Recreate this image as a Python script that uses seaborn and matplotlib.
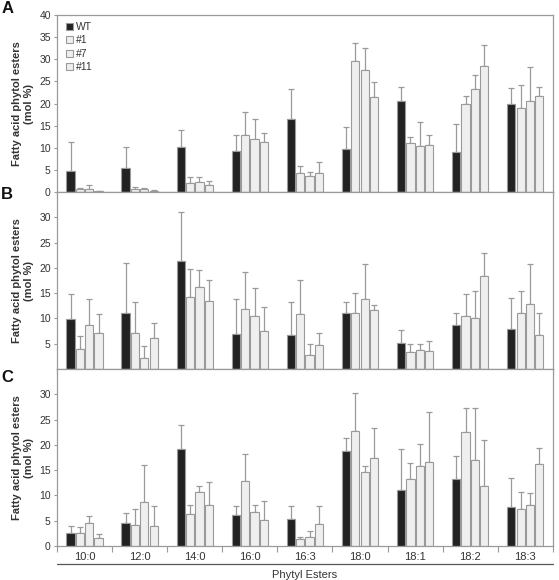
import numpy as np
import pandas as pd
import matplotlib
matplotlib.use("Agg")
import matplotlib.pyplot as plt
from matplotlib.patches import Patch
import seaborn as sns

# - Data -
esters = ["10:0", "12:0", "14:0", "16:0", "16:3", "18:0", "18:1", "18:2", "18:3"]
lines = ["WT", "#1", "#7", "#11"]

# panel A: means and top of error bar
a_wt = [4.8, 5.4, 10.1, 9.2, 16.6, 9.8, 20.6, 9.1, 19.9]
a_1 = [0.6, 0.7, 2.0, 12.8, 4.4, 29.6, 11.1, 20.0, 19.0]
a_7 = [0.7, 0.6, 2.3, 11.9, 3.6, 27.5, 10.4, 23.2, 20.5]
a_11 = [0.2, 0.3, 1.7, 11.4, 4.4, 21.4, 10.7, 28.6, 21.7]
a_wt_top = [11.3, 10.2, 14.1, 13.0, 23.4, 14.8, 23.8, 15.4, 23.6]
a_1_top = [1.0, 1.2, 3.3, 18.2, 6.0, 33.7, 12.4, 21.6, 24.3]
a_7_top = [1.5, 1.0, 3.3, 16.5, 4.5, 32.5, 15.9, 26.5, 28.3]
a_11_top = [0.3, 0.5, 2.6, 13.3, 6.8, 24.9, 12.8, 33.2, 23.8]

# panel B
b_wt = [9.9, 11.0, 21.3, 6.9, 6.7, 11.1, 5.2, 8.8, 8.0]
b_1 = [4.0, 7.2, 14.3, 11.9, 10.8, 11.1, 3.3, 10.5, 11.0]
b_7 = [8.8, 2.2, 16.2, 10.4, 2.8, 13.9, 3.7, 10.0, 12.9]
b_11 = [7.2, 6.1, 13.4, 7.5, 4.8, 11.6, 3.5, 18.4, 6.8]
b_wt_top = [14.9, 21.0, 31.1, 13.9, 13.2, 13.3, 7.7, 11.1, 14.1]
b_1_top = [6.5, 13.3, 19.7, 19.2, 17.7, 15.1, 4.9, 14.8, 15.5]
b_7_top = [13.9, 4.6, 19.5, 16.0, 4.9, 20.7, 4.9, 15.5, 20.7]
b_11_top = [10.9, 9.1, 17.6, 12.3, 7.1, 12.7, 5.6, 23.0, 11.0]

# panel C
c_wt = [2.6, 4.5, 19.1, 6.1, 5.3, 18.7, 11.1, 13.3, 7.7]
c_1 = [2.5, 4.2, 6.3, 12.9, 1.3, 22.8, 13.3, 22.5, 7.3]
c_7 = [4.5, 8.8, 10.7, 6.8, 1.8, 14.6, 15.9, 17.1, 8.2]
c_11 = [1.5, 4.0, 8.2, 5.1, 4.3, 17.4, 16.7, 11.8, 16.3]
c_wt_top = [4.0, 6.6, 24.0, 8.0, 7.9, 21.4, 19.2, 17.8, 13.5]
c_1_top = [3.8, 7.4, 8.2, 18.1, 1.8, 30.3, 16.5, 27.3, 10.7]
c_7_top = [6.0, 16.0, 11.9, 8.1, 3.0, 15.9, 20.2, 27.2, 10.5]
c_11_top = [2.4, 7.9, 12.6, 9.0, 7.9, 23.3, 26.5, 21.0, 19.4]

panels = [
    ("A", [a_wt, a_1, a_7, a_11], [a_wt_top, a_1_top, a_7_top, a_11_top], 40, np.arange(0, 41, 5)),
    ("B", [b_wt, b_1, b_7, b_11], [b_wt_top, b_1_top, b_7_top, b_11_top], 35, np.arange(5, 31, 5)),
    ("C", [c_wt, c_1, c_7, c_11], [c_wt_top, c_1_top, c_7_top, c_11_top], 35, np.arange(0, 31, 5)),
]

palette = {"WT": "#222222", "#1": "#efefef", "#7": "#efefef", "#11": "#efefef"}
edge_col = "#9a9a9a"
txt_col = "#333333"

sns.set_theme(style="white")
plt.rcParams["font.family"] = ["Liberation Sans", "DejaVu Sans"]

fig, axes = plt.subplots(3, 1, figsize=(5.59, 5.80), dpi=100, sharex=True)
fig.subplots_adjust(left=0.102, right=0.989, top=0.974, bottom=0.0586, hspace=0)

# letter centre heights (fig fraction)
letter_y = {"A": 0.986, "B": 0.664, "C": 0.350}

for ax, (letter, means, tops, ymax, yticks) in zip(axes, panels):
    df = pd.DataFrame({
        "ester": np.tile(esters, len(lines)),
        "line": np.repeat(lines, len(esters)),
        "value": np.concatenate(means),
    })
    sns.barplot(data=df, x="ester", y="value", hue="line", order=esters, hue_order=lines,
                palette=palette, width=0.68, gap=0.12, edgecolor=edge_col, linewidth=0.8,
                errorbar=None, legend=False, ax=ax, zorder=2)
    # upward error bars only
    for cont, m, t in zip(ax.containers, means, tops):
        xs = [b.get_x() + b.get_width() / 2 for b in cont]
        up = np.array(t) - np.array(m)
        ax.errorbar(xs, m, yerr=[np.zeros(len(m)), up], fmt="none", ecolor=edge_col,
                    elinewidth=0.9, capsize=2, capthick=0.9, zorder=1)
    ax.set_ylim(0, ymax)
    ax.set_yticks(yticks)
    ax.set_xlim(-0.5, len(esters) - 0.5)
    ax.set_ylabel("Fatty acid phytol esters\n(mol %)", fontsize=8, fontweight="bold", color=txt_col, labelpad=4)
    ax.set_xlabel("")
    for s in ax.spines.values():
        s.set_color(edge_col)
        s.set_linewidth(0.9)
    ax.tick_params(axis="y", which="major", left=True, length=2.5, width=0.8, color=edge_col,
                   labelsize=7.5, labelcolor=txt_col, pad=2)
    ax.tick_params(axis="x", which="major", bottom=False, length=0, labelsize=8, labelcolor=txt_col, pad=4)
    ax.set_xticks(np.arange(-0.5, len(esters), 1.0), minor=True)
    ax.tick_params(axis="x", which="minor", bottom=True, length=4, width=0.8, color=edge_col)
    fig.text(0.002, letter_y[letter], letter, fontsize=12, fontweight="bold",
             color="#111111", ha="left", va="center")

axes[0].legend(handles=[Patch(facecolor=palette[k], edgecolor=edge_col, linewidth=0.8, label=k) for k in lines],
               loc="upper left", bbox_to_anchor=(0.0, 1.015), frameon=False, fontsize=7.5,
               handlelength=0.65, handleheight=0.65, handletextpad=0.3, labelspacing=0.34,
               labelcolor=txt_col)

# category axis line and title under the bottom panel
axes[2].plot([0, 1], [-0.101, -0.101], transform=axes[2].transAxes, color="#555555", lw=0.9, clip_on=False)
axes[2].text(0.5, -0.163, "Phytyl Esters", transform=axes[2].transAxes, ha="center", va="center",
             fontsize=8, color=txt_col)

fig.savefig("out.png", dpi=100)
